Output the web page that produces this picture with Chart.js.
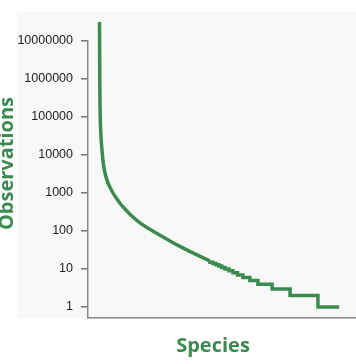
<!DOCTYPE html>
<html><head><meta charset="utf-8">
<script src="https://cdn.jsdelivr.net/npm/chart.js@4.4.1/dist/chart.umd.min.js"></script>
<style>html,body{margin:0;padding:0;background:#fff;}#wrap{width:356px;height:364px;position:relative;}</style>
</head><body>
<div id="wrap"><canvas id="c" width="356" height="364"></canvas></div>
<script>
// Smooth part of the rank-abundance curve (species rank, observations)
const curveRanks = [43, 44, 45.9, 49.2, 52.2, 57.8, 65.3, 74.6, 93.3, 108.2, 123.1, 141.8, 160.4, 194, 231, 269, 306, 343, 381, 418, 455];
const curveObs = [31600000, 942000, 83400, 24800, 13500, 5460, 2980, 1830, 1000, 695, 498, 357, 259, 164, 111, 77.1, 54.6, 39.3, 28.9, 21.6, 16.4];
// Stepped tail: observation count and the rank where each step starts
const stepObs = [15, 14, 13, 12, 11, 10, 9, 8, 7, 6, 5, 4, 3, 2, 1];
const stepStartRanks = [455, 466, 477, 488, 499, 511, 526, 541, 558, 578, 604, 634, 687, 754, 858];
const lastRank = 937;
const yTickValues = [1, 10, 100, 1000, 10000, 100000, 1000000, 10000000];
const xTitle = 'Species';
const yTitle = 'Observations';

const GREEN = '#3b8a50';
const curve = curveRanks.map((r, i) => ({x: r, y: curveObs[i]}));
const tail = [{x: curveRanks[curveRanks.length - 1], y: curveObs[curveObs.length - 1]}];
stepObs.forEach((v, i) => {
  const end = i + 1 < stepStartRanks.length ? stepStartRanks[i + 1] : lastRank;
  tail.push({x: stepStartRanks[i], y: v});
  tail.push({x: end, y: v});
});

const panelBg = {
  id: 'panelBg',
  beforeDraw(chart) {
    const {ctx, chartArea} = chart;
    ctx.save();
    ctx.fillStyle = '#f8f8f8';
    ctx.fillRect(17, 12, chart.width - 17, chartArea.bottom - 12);
    ctx.restore();
  }
};
const titles = {
  id: 'titles',
  afterDraw(chart) {
    const {ctx} = chart;
    ctx.save();
    ctx.fillStyle = GREEN;
    ctx.font = 'bold 20px "Open Sans"';
    ctx.textAlign = 'center';
    ctx.textBaseline = 'alphabetic';
    ctx.fillText(xTitle, 213, 351.5);
    ctx.translate(13, 163.5);
    ctx.rotate(-Math.PI / 2);
    ctx.fillText(yTitle, 0, 0);
    ctx.restore();
  }
};

new Chart(document.getElementById('c'), {
  type: 'scatter',
  data: {datasets: [
    {data: curve, showLine: true, borderColor: GREEN, borderWidth: 3.5, pointRadius: 0, tension: 0.35, clip: false},
    {data: tail, showLine: true, borderColor: GREEN, borderWidth: 3.5, pointRadius: 0, tension: 0, clip: false, borderJoinStyle: 'miter'}
  ]},
  options: {
    responsive: false, animation: false,
    plugins: {legend: {display: false}, tooltip: {enabled: false}},
    layout: {padding: {top: 41, right: 0, bottom: 46, left: 0}},
    scales: {
      x: {type: 'linear', min: 0, max: 1000, ticks: {display: false},
          grid: {display: false, drawTicks: false}, border: {color: '#888', width: 1.5},
          afterFit: s => { s.height = 0; }},
      y: {type: 'logarithmic', min: 0.5137, max: 10000000, bounds: 'data',
          afterBuildTicks: s => { s.ticks = yTickValues.map(v => ({value: v})); },
          ticks: {callback: v => String(v), font: {family: 'Liberation Sans', size: 12.5}, color: '#222', padding: 8, autoSkip: false},
          grid: {drawOnChartArea: false, tickLength: 7, color: '#777', lineWidth: 1.5},
          border: {color: '#888', width: 1.5},
          afterFit: s => { s.width = 88; }}
    }
  },
  plugins: [panelBg, titles]
});
</script>
</body></html>
